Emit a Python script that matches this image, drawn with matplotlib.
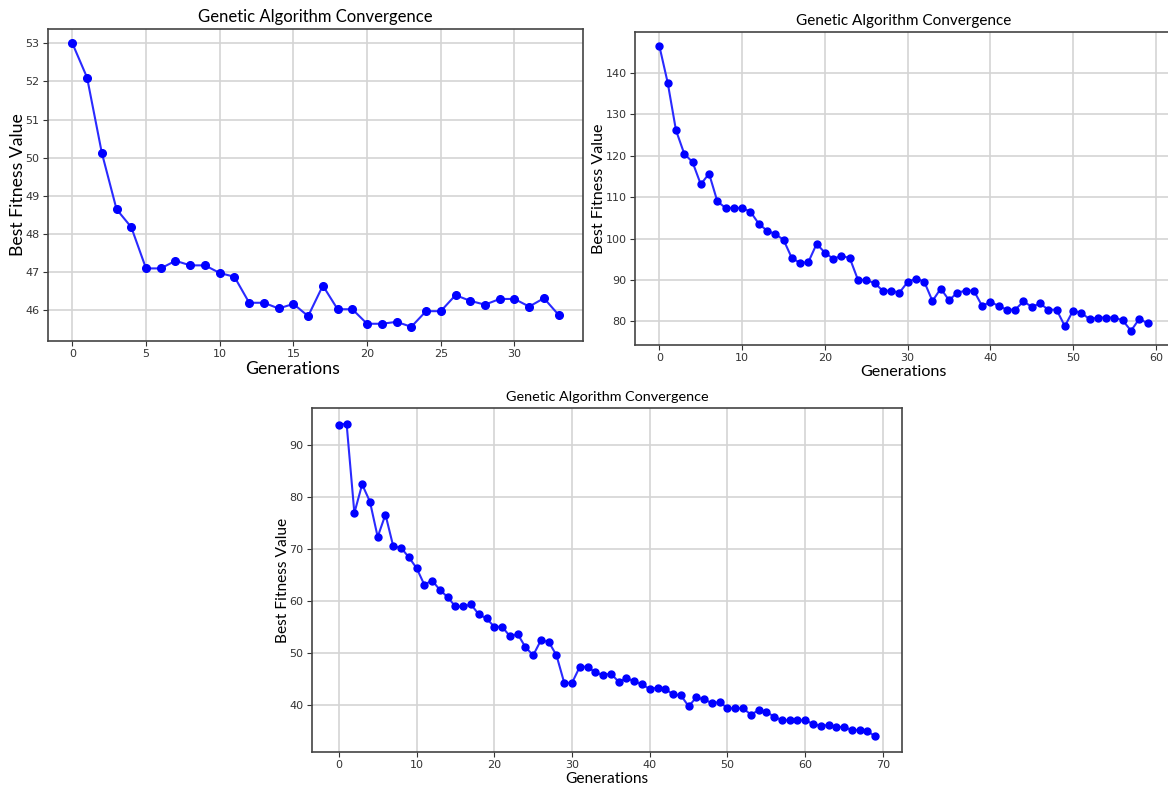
import matplotlib

matplotlib.use("Agg")

import matplotlib.pyplot as plt

# DATA

fitness_run1 = [
    53.0, 52.1, 50.13, 48.65, 48.18, 47.1, 47.1, 47.3, 47.18, 47.18,
    46.98, 46.88, 46.2, 46.2, 46.05, 46.17, 45.85, 46.65, 46.03, 46.03,
    45.65, 45.65, 45.7, 45.57, 45.98, 45.98, 46.4, 46.25, 46.15, 46.3,
    46.3, 46.1, 46.32, 45.88,
]

fitness_run2 = [
    146.5, 137.7, 126.2, 120.5, 118.5, 113.1, 115.7, 109.0, 107.4, 107.4,
    107.4, 106.5, 103.6, 101.9, 101.1, 99.7, 95.3, 94.1, 94.3, 98.7,
    96.6, 95.1, 95.8, 95.3, 90.0, 90.0, 89.2, 87.4, 87.4, 86.9,
    89.5, 90.3, 89.6, 84.9, 87.9, 85.1, 86.9, 87.4, 87.4, 83.7,
    84.7, 83.7, 82.8, 82.8, 84.8, 83.5, 84.3, 82.8, 82.8, 78.8,
    82.6, 82.0, 80.5, 80.9, 80.9, 80.9, 80.2, 77.7, 80.6, 79.5,
]

fitness_run3 = [
    94.0, 94.2, 77.0, 82.5, 79.2, 72.4, 76.7, 70.6, 70.3, 68.5,
    66.4, 63.2, 64.0, 62.2, 60.8, 59.0, 59.0, 59.4, 57.5, 56.7,
    55.1, 55.1, 53.3, 53.7, 51.2, 49.6, 52.5, 52.2, 49.6, 44.3,
    44.3, 47.4, 47.4, 46.3, 45.8, 46.1, 44.5, 45.2, 44.6, 44.0,
    43.1, 43.4, 43.1, 42.1, 41.9, 39.8, 41.5, 41.1, 40.4, 40.6,
    39.4, 39.4, 39.4, 38.2, 39.0, 38.7, 37.8, 37.1, 37.1, 37.1,
    37.1, 36.4, 36.0, 36.2, 35.8, 35.8, 35.2, 35.2, 35.0, 34.0,
]

TITLE = "Genetic Algorithm Convergence"
XLABEL = "Generations"
YLABEL = "Best Fitness Value"

W, H = 1168, 787


def px_axes(fig, left, top, right, bottom):
    # pixel box (from top-left) -> figure fraction
    return fig.add_axes([left / W, 1 - bottom / H, (right - left) / W, (bottom - top) / H])


def draw_panel(ax, values, title_size, label_size, ms, ypad):
    gens = list(range(len(values)))
    ax.plot(gens, values, color="#2a2aff", linewidth=1.5, zorder=3)
    ax.plot(gens, values, linestyle="none", marker="o", markersize=ms,
            color="blue", zorder=4)

    ax.set_title(TITLE, fontsize=title_size, family="Lato", pad=5)
    ax.set_xlabel(XLABEL, fontsize=label_size, family="Lato", labelpad=1)
    ax.set_ylabel(YLABEL, fontsize=label_size, family="Lato", labelpad=ypad)

    ax.grid(True, color="#d4d4d4", linewidth=1.2)
    ax.set_axisbelow(True)
    ax.tick_params(labelsize=8, colors="#333333", length=3.5, width=0.8, pad=2.5)
    for sp in ax.spines.values():
        sp.set_color("#444444")
        sp.set_linewidth(1.2)


fig = plt.figure(figsize=(W / 100, H / 100), dpi=100)

ax1 = px_axes(fig, 48, 29, 583, 341)
draw_panel(ax1, fitness_run1, 12, 12.7, 5.5, -0.5)
# the xlabel in this screenshot sits left of the axes centre
ax1.xaxis.label.set_x((293 - 48) / 535)

ax2 = px_axes(fig, 635, 32, 1172, 345)
draw_panel(ax2, fitness_run2, 11, 11.6, 5, -0.5)

ax3 = px_axes(fig, 312, 408, 902, 752)
draw_panel(ax3, fitness_run3, 10.4, 11.2, 5, 0)

plt.savefig("out.png", dpi=100)
plt.close()
